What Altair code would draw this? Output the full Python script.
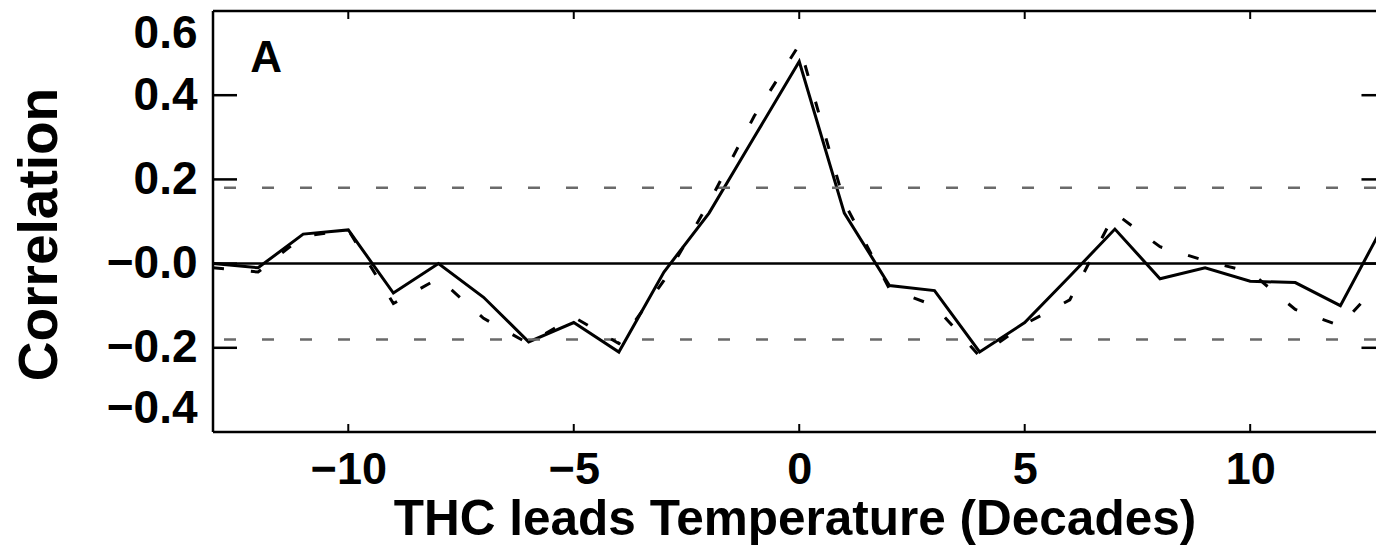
import altair as alt
import pandas as pd

# ---- data ----
lags = list(range(-13, 14))
solid_corr = [0.0, -0.01, 0.07, 0.08, -0.07, 0.0, -0.08, -0.186, -0.14, -0.21,
              -0.02, 0.12, 0.30, 0.48, 0.12, -0.052, -0.064, -0.21, -0.14, -0.03,
              0.082, -0.036, -0.01, -0.042, -0.045, -0.10, 0.10]
dashed_corr = [-0.01, -0.02, 0.065, 0.08, -0.095, -0.035, -0.13, -0.19, -0.127, -0.19,
               -0.04, 0.145, 0.35, 0.52, 0.145, -0.06, -0.10, -0.22, -0.144, -0.086,
               0.12, 0.04, 0.007, -0.02, -0.109, -0.148, -0.03]
significance = [0.18, -0.18]
x_ticks = [-10, -5, 0, 5, 10]
y_ticks = [-0.4, -0.2, 0.0, 0.2, 0.4, 0.6]
panel_label = "A"

X_MIN, X_MAX = -13, 12.79
Y_MIN, Y_MAX = -0.4, 0.6
FONT = "Liberation Sans"

xs = alt.Scale(domain=[X_MIN, X_MAX], nice=False, zero=False)
ys = alt.Scale(domain=[Y_MIN, Y_MAX], nice=False, zero=False)

df_solid = pd.DataFrame({"lag": lags, "corr": solid_corr})
df_dash = pd.DataFrame({"lag": lags, "corr": dashed_corr})
df_sig = pd.DataFrame({"y": significance})
df_zero = pd.DataFrame({"y": [0.0]})

# frame (left, top, bottom)
df_hframe = pd.DataFrame({"y": [Y_MIN, Y_MAX], "x": [X_MIN, X_MIN], "x2": [X_MAX, X_MAX]})
df_vframe = pd.DataFrame({"x": [X_MIN], "y": [Y_MIN], "y2": [Y_MAX]})

# inward ticks
ylen = 24 / 45.1
xlen = 8 / 421
inner_y = [v for v in y_ticks if Y_MIN < v < Y_MAX]
df_ytick = pd.DataFrame(
    [{"y": v, "x": X_MIN, "x2": X_MIN + ylen} for v in inner_y]
    + [{"y": v, "x": 13 - ylen, "x2": 13} for v in inner_y]
)
df_xtick = pd.DataFrame(
    [{"x": v, "y": Y_MIN, "y2": Y_MIN + xlen} for v in x_ticks]
    + [{"x": v, "y": Y_MAX, "y2": Y_MAX - xlen} for v in x_ticks]
)
df_label = pd.DataFrame({"x": [-11.82], "y": [0.485], "t": [panel_label]})

x_axis = alt.Axis(
    values=x_ticks, domain=False, ticks=False, grid=False,
    labelExpr="datum.value < 0 ? '\u2212' + abs(datum.value) : '' + datum.value",
    labelFont=FONT, labelFontSize=45, labelFontWeight="bold", labelColor="black",
    labelPadding=15,
    title="THC leads Temperature (Decades)", titleFont=FONT, titleFontSize=49.5,
    titleFontWeight="bold", titleColor="black", titlePadding=3,
)
y_axis = alt.Axis(
    values=y_ticks, domain=False, ticks=False, grid=False,
    labelExpr="datum.value > 0.05 ? format(datum.value, '.1f') : '\u2212' + format(abs(datum.value), '.1f')",
    labelFont=FONT, labelFontSize=46, labelFontWeight="bold", labelColor="black",
    labelPadding=16, labelFlush=True,
    title="Correlation", titleFont=FONT, titleFontSize=55, titleFontWeight="bold",
    titleColor="black", titlePadding=38, titleY=223,
)


def X(field):
    return alt.X(field, type="quantitative", scale=xs, axis=x_axis)


def Y(field):
    return alt.Y(field, type="quantitative", scale=ys, axis=y_axis)


solid = alt.Chart(df_solid).mark_line(color="black", strokeWidth=3, clip=True).encode(
    x=X("lag"), y=Y("corr"),
)
dashed = alt.Chart(df_dash).mark_line(color="black", strokeWidth=3, strokeDash=[11, 27], clip=True).encode(
    x=X("lag"), y=Y("corr"),
)
sig = alt.Chart(df_sig).mark_rule(color="#6a6a6a", strokeWidth=2.5, strokeDash=[12, 26]).encode(
    y=Y("y"),
)
zero = alt.Chart(df_zero).mark_rule(color="black", strokeWidth=2.5).encode(
    y=Y("y"),
)
hframe = alt.Chart(df_hframe).mark_rule(color="black", strokeWidth=2.5).encode(
    y=Y("y"), x=X("x"), x2="x2:Q",
)
vframe = alt.Chart(df_vframe).mark_rule(color="black", strokeWidth=2.5).encode(
    x=X("x"), y=Y("y"), y2="y2:Q",
)
yticks = alt.Chart(df_ytick).mark_rule(color="black", strokeWidth=2.5, clip=True).encode(
    y=Y("y"), x=X("x"), x2="x2:Q",
)
xticks = alt.Chart(df_xtick).mark_rule(color="black", strokeWidth=2).encode(
    x=X("x"), y=Y("y"), y2="y2:Q",
)
label = alt.Chart(df_label).mark_text(
    font=FONT, fontSize=44, fontWeight="bold", color="black", align="center", baseline="middle"
).encode(
    x=X("x"), y=Y("y"), text="t:N",
)

chart = alt.layer(solid, sig, zero, dashed, hframe, vframe, yticks, xticks, label).properties(
    width=1163, height=421,
    padding={"left": 213, "top": 11, "right": 0, "bottom": 121},
    autosize=alt.AutoSizeParams(type="none"),
    background="white",
).configure_view(stroke=None)

chart.save("out.html", embed_options={"renderer": "svg", "actions": False})
